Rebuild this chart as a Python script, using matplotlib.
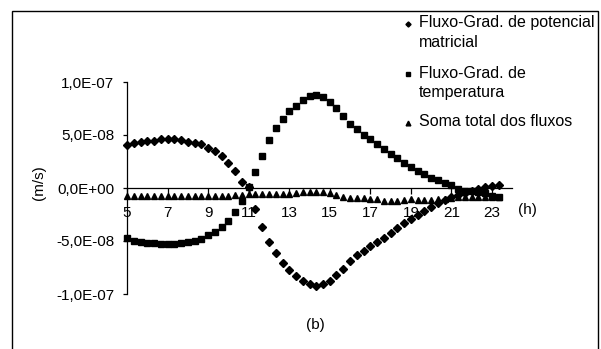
import matplotlib
matplotlib.use("Agg")
import matplotlib.pyplot as plt
from matplotlib.lines import Line2D
from matplotlib.patches import Rectangle

plt.rcParams['font.family'] = ['Liberation Sans', 'DejaVu Sans']
plt.rcParams['font.size'] = 11

# hours (every 20 min)
hours = [5.00, 5.33, 5.67, 6.00, 6.33, 6.67, 7.00, 7.33, 7.67, 8.00,
         8.33, 8.67, 9.00, 9.33, 9.67, 10.00, 10.33, 10.67, 11.00, 11.33,
         11.67, 12.00, 12.33, 12.67, 13.00, 13.33, 13.67, 14.00, 14.33, 14.67,
         15.00, 15.33, 15.67, 16.00, 16.33, 16.67, 17.00, 17.33, 17.67, 18.00,
         18.33, 18.67, 19.00, 19.33, 19.67, 20.00, 20.33, 20.67, 21.00, 21.33,
         21.67, 22.00, 22.33, 22.67, 23.00, 23.33]

# values in units of 1e-8 m/s
matricial = [4.06, 4.22, 4.37, 4.46, 4.46, 4.59, 4.59, 4.59, 4.53, 4.37,
             4.27, 4.12, 3.80, 3.49, 3.02, 2.39, 1.60, 0.60, 0.12, -2.00,
             -3.65, -5.07, -6.16, -7.05, -7.76, -8.30, -8.77, -9.08, -9.25, -9.08,
             -8.77, -8.20, -7.67, -6.93, -6.32, -5.94, -5.47, -5.07, -4.69, -4.20,
             -3.80, -3.33, -2.88, -2.52, -2.15, -1.76, -1.44, -1.13, -0.82, -0.66,
             -0.47, -0.28, -0.14, 0.07, 0.19, 0.28]

temperatura = [-4.75, -4.97, -5.07, -5.16, -5.16, -5.28, -5.28, -5.28, -5.16, -5.07,
               -5.00, -4.84, -4.43, -4.12, -3.71, -3.08, -2.24, -1.20, 0.05, 1.54,
               3.02, 4.53, 5.63, 6.51, 7.26, 7.78, 8.30, 8.68, 8.80, 8.56,
               8.14, 7.52, 6.79, 6.04, 5.54, 5.00, 4.59, 4.12, 3.65, 3.20,
               2.80, 2.39, 2.00, 1.63, 1.32, 0.97, 0.75, 0.50, 0.24, -0.10,
               -0.24, -0.33, -0.38, -0.47, -0.80, -0.85]

soma = [-0.78, -0.78, -0.76, -0.78, -0.78, -0.78, -0.76, -0.78, -0.78, -0.78,
        -0.78, -0.76, -0.74, -0.72, -0.72, -0.72, -0.70, -0.66, -0.60, -0.60,
        -0.60, -0.60, -0.60, -0.60, -0.57, -0.50, -0.40, -0.35, -0.35, -0.40,
        -0.50, -0.66, -0.82, -0.92, -0.92, -0.92, -1.04, -1.07, -1.20, -1.20,
        -1.20, -1.13, -1.08, -1.10, -1.13, -1.13, -1.08, -1.07, -0.92, -0.82,
        -0.82, -0.82, -0.82, -0.82, -0.82, -0.82]
scale = 1e-8

xticks = [5, 7, 9, 11, 13, 15, 17, 19, 21, 23]
yticks = [-1e-7, -5e-8, 0, 5e-8, 1e-7]
ytick_labels = ['-1,0E-07', '-5,0E-08', '0,0E+00', '5,0E-08', '1,0E-07']
legend_labels = ['Fluxo-Grad. de potencial\nmatricial',
                 'Fluxo-Grad. de\ntemperatura',
                 'Soma total dos fluxos']

W, H = 601, 349
fig = plt.figure(figsize=(W / 100, H / 100), dpi=100)
ax = fig.add_axes([127 / W, 1 - 294 / H, (512.3 - 127) / W, (294 - 82) / H])

ax.plot(hours, [v * scale for v in matricial], ls='none', marker='D', ms=3.6,
        color='black', zorder=3, clip_on=False)
ax.plot(hours, [v * scale for v in temperatura], ls='none', marker='s', ms=3.7,
        color='black', zorder=3, clip_on=False)
ax.plot(hours, [v * scale for v in soma], ls='none', marker='^', ms=4.5,
        color='black', zorder=3, clip_on=False)

ax.set_xlim(5, 24)
ax.set_ylim(-1e-7, 1e-7)
ax.spines['top'].set_visible(False)
ax.spines['right'].set_visible(False)
ax.spines['bottom'].set_position(('data', 0))
for s in ('left', 'bottom'):
    ax.spines[s].set_linewidth(0.9)

ax.set_xticks(xticks)
ax.set_xticklabels([str(t) for t in xticks])
ax.set_yticks(yticks)
ax.set_yticklabels(ytick_labels)
ax.tick_params(axis='x', direction='out', length=4, width=0.9, pad=9, labelsize=11)
ax.tick_params(axis='y', direction='out', length=3, width=0.9, pad=6, labelsize=11)
ax.patch.set_visible(False)

# axis titles
fig.text(39 / W, 1 - 183 / H, '(m/s)', rotation=90, ha='center', va='center', fontsize=11)
fig.text(527 / W, 1 - 210 / H, '(h)', ha='center', va='center', fontsize=11)
fig.text(315 / W, 1 - 325 / H, '(b)', ha='center', va='center', fontsize=11)

# legend drawn by hand
leg_marks = ['D', 's', '^']
leg_ms = [2.6, 2.8, 3.4]
leg_y = [24, 74, 123]
for mk, ms, y, lab in zip(leg_marks, leg_ms, leg_y, legend_labels):
    fig.add_artist(Line2D([408 / W], [1 - y / H], marker=mk, ms=ms, color='black',
                          ls='none', transform=fig.transFigure))
    fig.text(419 / W, 1 - (y - 8.5) / H, lab, ha='left', va='top', fontsize=11.5,
             linespacing=1.4)

# outer chart border
fig.add_artist(Rectangle((11.7 / W, -0.05), (598 - 11.7) / W, 1.05 - 11 / H,
                         fill=False, lw=1.0, ec='black', transform=fig.transFigure))

fig.savefig('out.png', dpi=100)
